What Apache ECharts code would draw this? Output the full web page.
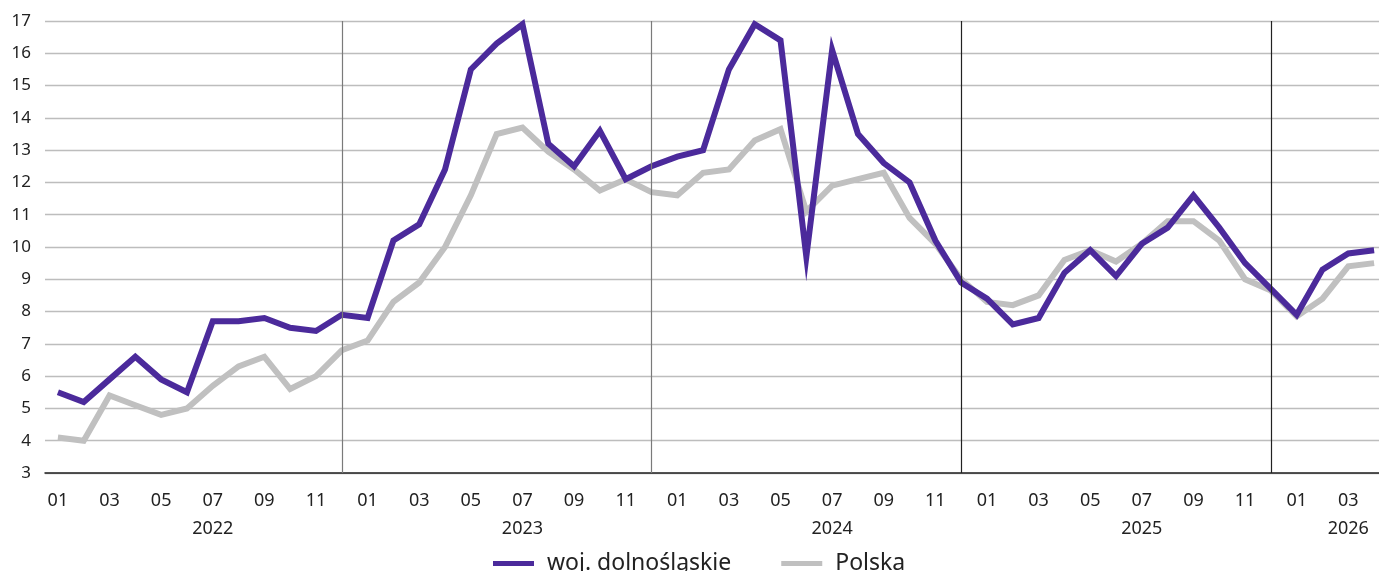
<!DOCTYPE html>
<html>
<head>
<meta charset="utf-8">
<script src="https://cdn.jsdelivr.net/npm/echarts@6/dist/echarts.min.js"></script>
<style>
  html, body { margin: 0; padding: 0; background: #fff; }
  #chart { width: 1379px; height: 571px; }
</style>
</head>
<body>
<div id="chart"></div>
<script>
// months 2022-01 .. 2026-04
const months = [
  "2022-01", "2022-02", "2022-03", "2022-04", "2022-05", "2022-06", "2022-07", "2022-08", "2022-09", "2022-10", "2022-11", "2022-12",
  "2023-01", "2023-02", "2023-03", "2023-04", "2023-05", "2023-06", "2023-07", "2023-08", "2023-09", "2023-10", "2023-11", "2023-12",
  "2024-01", "2024-02", "2024-03", "2024-04", "2024-05", "2024-06", "2024-07", "2024-08", "2024-09", "2024-10", "2024-11", "2024-12",
  "2025-01", "2025-02", "2025-03", "2025-04", "2025-05", "2025-06", "2025-07", "2025-08", "2025-09", "2025-10", "2025-11", "2025-12",
  "2026-01", "2026-02", "2026-03", "2026-04"
];

const dolnoslaskie = [
  5.5, 5.2, 5.9, 6.6, 5.9, 5.5, 7.7, 7.7, 7.8, 7.5, 7.4, 7.9,
  7.8, 10.2, 10.7, 12.4, 15.5, 16.3, 16.9, 13.2, 12.5, 13.6, 12.1, 12.5,
  12.8, 13.0, 15.5, 16.9, 16.4, 9.7, 16.1, 13.5, 12.6, 12.0, 10.2, 8.9,
  8.4, 7.6, 7.8, 9.2, 9.9, 9.1, 10.1, 10.6, 11.6, 10.6, 9.5, 8.7,
  7.9, 9.3, 9.8, 9.9
];

const polska = [
  4.1, 4.0, 5.4, 5.1, 4.8, 5.0, 5.7, 6.3, 6.6, 5.6, 6.0, 6.8,
  7.1, 8.3, 8.9, 10.0, 11.6, 13.5, 13.7, 12.95, 12.4, 11.75, 12.1, 11.7,
  11.6, 12.3, 12.4, 13.3, 13.65, 11.1, 11.9, 12.1, 12.3, 10.9, 10.1, 9.0,
  8.3, 8.2, 8.5, 9.6, 9.9, 9.55, 10.1, 10.8, 10.8, 10.2, 9.0, 8.65,
  7.85, 8.4, 9.4, 9.5
];

// year caption shown under a chosen month
const yearLabels = {
  "2022-07": "2022",
  "2023-07": "2023",
  "2024-07": "2024",
  "2025-07": "2025",
  "2026-03": "2026"
};

// vertical separators at each December
const yearBreaks = ["2022-12", "2023-12", "2024-12", "2025-12"];
const yearBreakColors = ["#7a7a7a", "#7a7a7a", "#222", "#222"];

const FONT = "Noto Sans";

const chart = echarts.init(document.getElementById("chart"));

chart.setOption({
  animation: false,
  grid: {
    top: 21,
    bottom: 98,
    left: 45,
    right: -8,
    containLabel: false,
    outerBoundsMode: "none"
  },
  legend: {
    data: ["woj. dolnośląskie", "Polska"],
    left: 488,
    top: 547,
    icon: "rect",
    itemWidth: 41,
    itemHeight: 5,
    itemGap: 50,
    textStyle: {
      fontFamily: FONT,
      fontSize: 23,
      color: "#222",
      padding: [0, 0, 0, 8]
    }
  },
  xAxis: {
    type: "category",
    data: months,
    boundaryGap: true,
    axisLine: { lineStyle: { color: "#222", width: 1.5 } },
    axisTick: {
      alignWithLabel: true,
      interval: 0,
      inside: true,
      length: 5,
      lineStyle: { color: "#222", width: 1.5 }
    },
    axisLabel: {
      interval: 1,
      margin: 14,
      fontFamily: FONT,
      fontSize: 18,
      color: "#222",
      lineHeight: 28,
      formatter: function (value) {
        const m = value.slice(5);
        return yearLabels[value] ? m + "\n" + yearLabels[value] : m;
      }
    },
    splitLine: { show: false }
  },
  yAxis: {
    type: "value",
    min: 3,
    max: 17,
    interval: 1,
    axisLine: { show: false },
    axisTick: { show: false },
    axisLabel: {
      margin: 14,
      fontFamily: FONT,
      fontSize: 17,
      color: "#222"
    },
    splitLine: { lineStyle: { color: "#bdbdbd", width: 1.3 } }
  },
  series: [
    {
      name: "Polska",
      type: "line",
      data: polska,
      symbol: "none",
      z: 2,
      lineStyle: { color: "#c0c0c0", width: 6, join: "miter" },
      itemStyle: { color: "#c0c0c0" },
      markLine: {
        silent: true,
        symbol: ["none", "none"],
        label: { show: false },
        lineStyle: { width: 1.2, type: "solid" },
        data: yearBreaks.map(function (m, i) {
          return { xAxis: m, lineStyle: { color: yearBreakColors[i] } };
        })
      }
    },
    {
      name: "woj. dolnośląskie",
      type: "line",
      data: dolnoslaskie,
      symbol: "none",
      z: 3,
      lineStyle: { color: "#4b2a9b", width: 6, join: "miter" },
      itemStyle: { color: "#4b2a9b" }
    }
  ]
});
</script>
</body>
</html>
